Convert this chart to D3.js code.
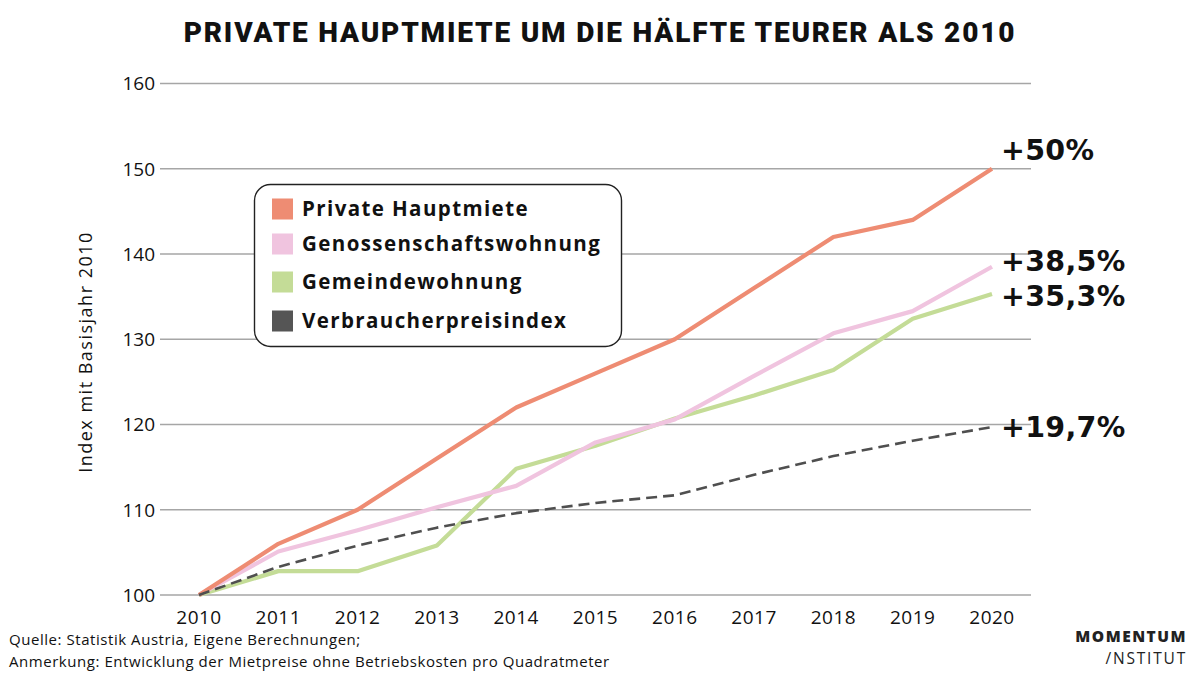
<!DOCTYPE html>
<html><head><meta charset="utf-8">
<script src="https://cdn.jsdelivr.net/npm/d3@7"></script>
<style>
html,body{margin:0;padding:0;background:#fff;}
svg{display:block;font-family:"Open Sans","Noto Sans",sans-serif;}
</style></head>
<body>
<svg id="chart" width="1200" height="675"></svg>
<script>
const years = [2010,2011,2012,2013,2014,2015,2016,2017,2018,2019,2020];
const privateMiete = [100,106,110,116,122,126,130,136,142,144,150];
const genossenschaft = [100,105.1,107.6,110.3,112.8,117.9,120.6,125.7,130.7,133.3,138.5];
const gemeinde = [100,102.8,102.8,105.8,114.8,117.5,120.7,123.4,126.4,132.4,135.3];
const vpi = [100,103.3,105.8,107.9,109.6,110.8,111.7,114.1,116.3,118.1,119.7];
const yTicks = [100,110,120,130,140,150,160];
const seriesNames = ["Private Hauptmiete","Genossenschaftswohnung","Gemeindewohnung","Verbraucherpreisindex"];
const endLabels = ["+50%","+38,5%","+35,3%","+19,7%"];
const colors = ["#EE8C73","#F0C4DF","#C4DC97","#4f4f4f"];

const svg = d3.select("#chart");
const x = d3.scaleLinear().domain([2010,2020]).range([199,992]);
const y = d3.scaleLinear().domain([100,160]).range([595,83.5]);

// gridlines
svg.append("g").selectAll("line").data(yTicks).join("line")
  .attr("x1",160).attr("x2",1031)
  .attr("y1",d=>y(d)).attr("y2",d=>y(d))
  .attr("stroke","#a6a6a6").attr("stroke-width",1.3);

// y tick labels
svg.append("g").selectAll("text").data(yTicks).join("text")
  .attr("x",155).attr("y",d=>y(d)).attr("dy","0.36em")
  .attr("text-anchor","end").attr("font-size",19).attr("fill","#111")
  .text(d=>d);

// x tick labels
svg.append("g").selectAll("text").data(years).join("text")
  .attr("x",d=>x(d)).attr("y",624)
  .attr("text-anchor","middle").attr("font-size",19).attr("fill","#111")
  .attr("letter-spacing",0.5)
  .text(d=>d);

// y title
svg.append("text").attr("transform","translate(92,352) rotate(-90)")
  .attr("text-anchor","middle").attr("font-size",18).attr("fill","#111")
  .attr("letter-spacing",1.5)
  .text("Index mit Basisjahr 2010");

// title
svg.append("text").attr("x",600).attr("y",42).attr("text-anchor","middle")
  .attr("font-family","Roboto, sans-serif").attr("font-weight",900)
  .attr("font-size",28).attr("letter-spacing",1.8).attr("fill","#111")
  .text("PRIVATE HAUPTMIETE UM DIE HÄLFTE TEURER ALS 2010");

const data = [privateMiete, genossenschaft, gemeinde, vpi];
const line = d3.line().x((d,i)=>x(years[i])).y(d=>y(d));

// draw order: green, pink, private, vpi
[2,1,0,3].forEach(k=>{
  svg.append("path").datum(data[k])
    .attr("d",line).attr("fill","none")
    .attr("stroke",colors[k])
    .attr("stroke-width",k===3?2.6:4.2)
    .attr("stroke-dasharray",k===3?"11,6":null)
    .attr("stroke-linejoin","round");
});

// end labels
const labelY = [150,261,296,427];
svg.append("g").selectAll("text").data(endLabels).join("text")
  .attr("x",1001).attr("y",(d,i)=>labelY[i]).attr("dy","0.36em")
  .attr("font-family","'DejaVu Sans', sans-serif")
  .attr("font-size",28.5).attr("font-weight",700).attr("fill","#111")
  .attr("letter-spacing",0.3)
  .text(d=>d);

// legend
const lg = svg.append("g");
lg.append("rect").attr("x",254.5).attr("y",184.5).attr("width",367).attr("height",162)
  .attr("rx",16).attr("fill","#fff").attr("stroke","#222").attr("stroke-width",1.4);
const legY = [209,244,282,321];
seriesNames.forEach((n,i)=>{
  lg.append("rect").attr("x",272).attr("y",legY[i]-10.5).attr("width",21).attr("height",21).attr("fill",colors[i]==="#4f4f4f"?"#555":colors[i]);
  lg.append("text").attr("x",302).attr("y",legY[i]).attr("dy","0.36em")
    .attr("font-size",20.5).attr("font-weight",700).attr("letter-spacing",1.4).attr("fill","#111")
    .text(n);
});

// footer
svg.append("text").attr("x",9).attr("y",645).attr("font-size",15).attr("fill","#111")
  .attr("letter-spacing",0.55)
  .text("Quelle: Statistik Austria, Eigene Berechnungen;");
svg.append("text").attr("x",9).attr("y",667).attr("font-size",15).attr("fill","#111")
  .attr("letter-spacing",0.55)
  .text("Anmerkung: Entwicklung der Mietpreise ohne Betriebskosten pro Quadratmeter");

// logo
svg.append("text").attr("x",1187).attr("y",642).attr("text-anchor","end")
  .attr("font-size",15.5).attr("font-weight",800).attr("fill","#222").attr("letter-spacing",1.5)
  .text("MOMENTUM");
svg.append("text").attr("x",1187).attr("y",664).attr("text-anchor","end")
  .attr("font-size",15.5).attr("fill","#222").attr("letter-spacing",1.8)
  .text("/NSTITUT");
</script>
</body></html>
